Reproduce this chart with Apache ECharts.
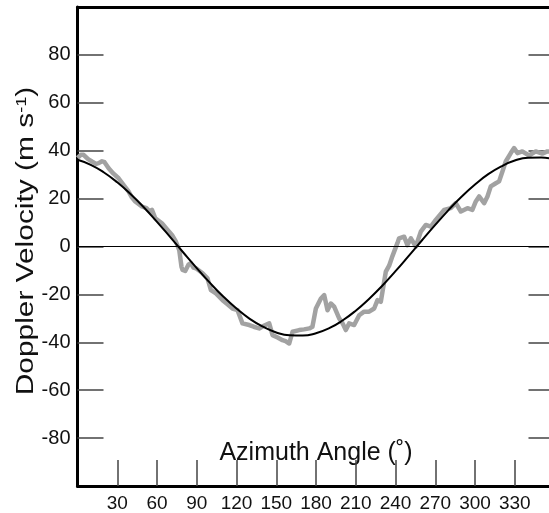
<!DOCTYPE html>
<html>
<head>
<meta charset="utf-8">
<script src="https://cdn.jsdelivr.net/npm/echarts@6/dist/echarts.min.js"></script>
<style>
html,body{margin:0;padding:0;background:#fff;}
#c{width:549px;height:513px;}
</style>
</head>
<body>
<div id="c"></div>
<script>
// Observed Doppler velocity (grey noisy trace)
const obsAzimuth = [0,2.5,4.6,8,10.9,14,16,18.5,20.4,23.5,27,31,35,38.5,41,43.6,48.6,52,54.5,56.2,58.7,63.7,67.5,71.3,74.3,76.8,78.5,79.3,81.3,83.8,85.6,87.5,89.4,94.4,98.1,100.7,104.5,109.5,113,117,120.8,124.5,129.6,133,137.1,141,144.7,147.2,151,154.7,157,159.8,162.3,167.3,171,174.9,177.3,179.9,183.7,186.2,188.7,191.2,193.7,197.5,200,202.5,205,208.8,212.6,216.3,220.1,223.9,226.4,228.9,232.7,235.2,237.7,241.5,242.7,246.5,249,251.6,255.3,259.1,262.9,266.7,270.4,276.7,281.7,285.5,289.3,294.3,298,300.6,303.1,306.9,309.4,311.9,315.7,318.2,320.7,323.2,327,329.5,332,335.7,340.8,345.8,350.8,354.6,358];
const obsVelocity = [37,38.3,38.3,36.5,35.5,34.5,34.8,35.6,35.2,32.7,30.5,28.5,25.5,23,20.5,18.8,16.7,16,14.6,15.3,11.8,9.7,7.2,4.8,2.0,-1.5,-8.5,-9.8,-10.2,-7.5,-7.0,-8.8,-9.1,-11.2,-13.3,-18.2,-19.6,-22.4,-24,-25.9,-26.6,-32.1,-32.8,-33.5,-34.2,-33,-32.1,-37,-38,-39.1,-39.5,-40.5,-35.6,-34.9,-34.6,-34.2,-33.5,-25.9,-21.7,-20.3,-26.6,-23.8,-25.1,-30,-32,-34.9,-32.1,-32.8,-28.7,-27.2,-27.2,-25.9,-22.4,-23.1,-10.5,-8,-4,1.5,3.4,4.1,0.6,3.4,0,6.2,9.0,8.3,11.1,15.3,16.0,18.1,14.6,16.0,15.3,18.8,20.9,18.1,20.9,25.1,26.4,27.2,31.3,35.5,39,41.1,39,39.7,38,39.7,38.8,39.7,39.5];

// Fitted curve (black), values every 10 degrees
const fitAzimuth = [0,10,20,30,40,50,60,70,80,90,100,110,120,130,140,150,160,170,180,190,200,210,220,230,240,250,260,270,280,290,300,310,320,330,340,350,360];
const fitVelocity = [36.2,34.1,30.9,26.8,21.9,16.4,10.3,3.9,-2.6,-9.0,-15.2,-20.9,-25.9,-30.2,-33.5,-35.9,-37.1,-37.2,-36.2,-34.1,-30.9,-26.8,-21.9,-16.4,-10.3,-3.9,2.6,9.0,15.2,20.9,25.9,30.2,33.5,35.9,37.1,37.2,36.2];

const xTickValues = [30,60,90,120,150,180,210,240,270,300,330];
const yTickValues = [-80,-60,-40,-20,0,20,40,60,80];

const obsData = obsAzimuth.map((a, i) => [a, obsVelocity[i]]);
const fitData = fitAzimuth.map((a, i) => [a, fitVelocity[i]]);

const FONT = 'Liberation Sans, Arial, sans-serif';
const chart = echarts.init(document.getElementById('c'), null, {renderer: 'canvas'});

chart.setOption({
  animation: false,
  backgroundColor: '#fff',
  grid: {left: 77.5, top: 7, width: 477, height: 479, containLabel: false, outerBoundsMode: 'none'},
  xAxis: [{
    type: 'value', min: 0, max: 360, position: 'bottom',
    axisLine: {show: true, onZero: false, lineStyle: {color: '#000', width: 3}},
    axisTick: {show: true, inside: true, length: 26, customValues: xTickValues, lineStyle: {color: '#444', width: 1.5}},
    axisLabel: {show: true, customValues: xTickValues, margin: 8, color: '#111', fontFamily: FONT, fontSize: 19},
    splitLine: {show: false},
    name: 'Azimuth Angle (\u02DA)', nameLocation: 'middle', nameGap: -45,
    nameTextStyle: {color: '#111', fontFamily: FONT, fontSize: 25}
  }, {
    type: 'value', min: 0, max: 360, position: 'top',
    axisLine: {show: true, onZero: false, lineStyle: {color: '#000', width: 3}},
    axisTick: {show: false}, axisLabel: {show: false}, splitLine: {show: false}
  }],
  yAxis: [{
    type: 'value', min: -100, max: 100, position: 'left',
    axisLine: {show: true, onZero: false, lineStyle: {color: '#000', width: 3}},
    axisTick: {show: true, inside: true, length: 26, customValues: yTickValues, lineStyle: {color: '#444', width: 1.5}},
    axisLabel: {show: true, customValues: yTickValues, margin: 7, color: '#111', fontFamily: FONT, fontSize: 20},
    splitLine: {show: false}
  }, {
    type: 'value', min: -100, max: 100, position: 'right',
    axisLine: {show: true, onZero: false, lineStyle: {color: '#000', width: 3}},
    axisTick: {show: true, inside: true, length: 26, customValues: yTickValues, lineStyle: {color: '#444', width: 1.5}},
    axisLabel: {show: false}, splitLine: {show: false}
  }],
  graphic: [{
    type: 'text', x: 27, y: 241, rotation: Math.PI / 2, scaleX: 1.3, scaleY: 1,
    style: {
      text: 'Doppler Velocity (m s{sup|-1})',
      fill: '#111', fontFamily: FONT, fontSize: 23,
      align: 'center', verticalAlign: 'middle',
      rich: {sup: {fontSize: 14, fontFamily: FONT, fill: '#111', verticalAlign: 'top', lineHeight: 14, padding: [0, 0, 10, 0]}}
    },
    silent: true
  }],
  series: [{
    type: 'line', data: obsData, xAxisIndex: 0, yAxisIndex: 0,
    showSymbol: false, symbol: 'none',
    lineStyle: {color: '#a2a2a2', width: 4.5, join: 'round'},
    markLine: {
      silent: true, symbol: 'none', label: {show: false},
      lineStyle: {color: '#000', width: 1.2, type: 'solid'},
      data: [{yAxis: 0}]
    },
    z: 2
  }, {
    type: 'line', data: fitData, xAxisIndex: 0, yAxisIndex: 0,
    showSymbol: false, symbol: 'none', smooth: true,
    lineStyle: {color: '#000', width: 2},
    z: 3
  }]
});
</script>
</body>
</html>
